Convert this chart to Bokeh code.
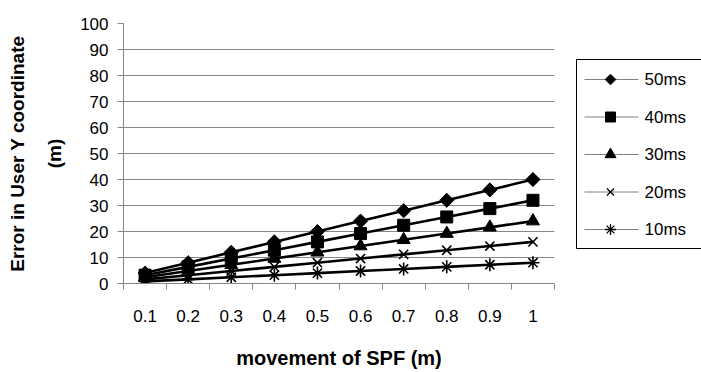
from bokeh.plotting import figure
from bokeh.layouts import row
from bokeh.models import FixedTicker, Range1d, Title
from bokeh.core.properties import value
from bokeh.embed import file_html
from bokeh.resources import INLINE

# Movement of the SPF (m) and the resulting error in the user's Y coordinate (m)
movement = [0.1, 0.2, 0.3, 0.4, 0.5, 0.6, 0.7, 0.8, 0.9, 1.0]
movement_labels = ["0.1", "0.2", "0.3", "0.4", "0.5", "0.6", "0.7", "0.8", "0.9", "1"]

err_50ms = [4, 8, 12, 16, 20, 24, 28, 32, 36, 40]
err_40ms = [3.2, 6.4, 9.6, 12.8, 16, 19.2, 22.4, 25.6, 28.8, 32]
err_30ms = [2.4, 4.8, 7.2, 9.6, 12, 14.4, 16.8, 19.2, 21.6, 24]
err_20ms = [1.6, 3.2, 4.8, 6.4, 8, 9.6, 11.2, 12.8, 14.4, 16]
err_10ms = [0.8, 1.6, 2.4, 3.2, 4, 4.8, 5.6, 6.4, 7.2, 8]

series_names = ["50ms", "40ms", "30ms", "20ms", "10ms"]
y_ticks = [0, 10, 20, 30, 40, 50, 60, 70, 80, 90, 100]

FONT = "Liberation Sans"
GRID = "#868686"

# category boundaries (tick marks sit between the categories)
half = (movement[1] - movement[0]) / 2
bounds = [m - half for m in movement] + [movement[-1] + half]

p = figure(width=558, height=372, output_backend="svg", toolbar_location=None,
           x_range=Range1d(bounds[0], bounds[-1]), y_range=Range1d(0, 100),
           min_border_left=123, min_border_right=4,
           min_border_top=23, min_border_bottom=89)
p.outline_line_color = None
p.background_fill_color = "white"
p.border_fill_color = "white"

# y axis
p.yaxis.ticker = FixedTicker(ticks=y_ticks)
p.yaxis.axis_line_color = GRID
p.yaxis.major_tick_line_color = GRID
p.yaxis.major_tick_out = 6
p.yaxis.major_tick_in = 0
p.yaxis.minor_tick_line_color = None
p.yaxis.major_label_text_font = FONT
p.yaxis.major_label_text_font_size = "17px"
p.yaxis.major_label_text_color = "black"
p.yaxis.major_label_standoff = 9

# x axis: labels at category centres, tick marks at the boundaries
p.xaxis.ticker = FixedTicker(ticks=movement, minor_ticks=bounds)
p.xaxis.major_label_overrides = {m: lab for m, lab in zip(movement, movement_labels)}
p.xaxis.axis_line_color = GRID
p.xaxis.major_tick_line_color = None
p.xaxis.major_tick_out = 0
p.xaxis.major_tick_in = 0
p.xaxis.minor_tick_line_color = GRID
p.xaxis.minor_tick_out = 6
p.xaxis.minor_tick_in = 0
p.xaxis.major_label_text_font = FONT
p.xaxis.major_label_text_font_size = "17px"
p.xaxis.major_label_text_color = "black"
p.xaxis.major_label_standoff = 20
p.xaxis.axis_label = "movement of SPF (m)"
p.xaxis.axis_label_text_font = FONT
p.xaxis.axis_label_text_font_size = "20px"
p.xaxis.axis_label_text_font_style = "bold"
p.xaxis.axis_label_text_color = "black"
p.xaxis.axis_label_standoff = 22

p.xgrid.grid_line_color = None
p.ygrid.grid_line_color = GRID
p.ygrid.grid_line_width = 1

# y title on two lines, stacked outward from the axis
for txt, gap in [("(m)", 25), ("Error in User Y coordinate", 3)]:
    p.add_layout(Title(text=txt, align="center", standoff=gap, text_font=FONT,
                       text_font_size="19px", text_font_style="bold",
                       text_color="black"), "left")

DIAMOND = dict(marker="square", angle=0.785398)
series = [
    (err_50ms, dict(DIAMOND, size=10)),
    (err_40ms, dict(marker="square", size=12)),
    (err_30ms, dict(marker="triangle", size=13)),
    (err_20ms, dict(marker="x", size=13, line_width=1.6)),
    (err_10ms, dict(marker="asterisk", size=13, line_width=1.6)),
]
key_marks = [
    dict(DIAMOND, size=7.5),
    dict(marker="square", size=10),
    dict(marker="triangle", size=11),
    dict(marker="x", size=10, line_width=1.3),
    dict(marker="asterisk", size=11, line_width=1.3),
]

for vals, mk in series:
    p.line(movement, vals, line_color="black", line_width=2.6)
for vals, mk in series:
    p.scatter(movement, vals, fill_color="black", line_color="black", **mk)

# key panel, laid out in pixels measured from its top-left corner
kp = figure(width=143, height=372, output_backend="svg", toolbar_location=None,
            x_range=Range1d(0, 143), y_range=Range1d(283, 23),
            x_axis_location=None, y_axis_location=None,
            min_border_left=0, min_border_right=0, min_border_top=23, min_border_bottom=89)
kp.outline_line_color = None
kp.xgrid.grid_line_color = None
kp.ygrid.grid_line_color = None
kp.border_fill_color = "white"

BOX_L, BOX_T, BOX_B = 18, 59, 248
ROW0, ROW_STEP = 79, 37.5
SW_L, SW_R, MARK_X, TEXT_X = 26, 80, 52, 86

kp.quad(left=BOX_L, right=150, top=BOX_T, bottom=BOX_B,
        fill_color="white", line_color="black", line_width=1)
for i, (name, mk) in enumerate(zip(series_names, key_marks)):
    yy = ROW0 + i * ROW_STEP
    kp.line([SW_L, SW_R], [yy, yy], line_color="#808080", line_width=1)
    kp.scatter([MARK_X], [yy], fill_color="black", line_color="black", **mk)
    kp.text([TEXT_X], [yy], text=[name], text_font=value(FONT),
            text_font_size="17px", text_color="black",
            text_align="left", text_baseline="middle")

layout = row(p, kp, spacing=0)
open("out.html", "w").write(file_html(layout, INLINE))
